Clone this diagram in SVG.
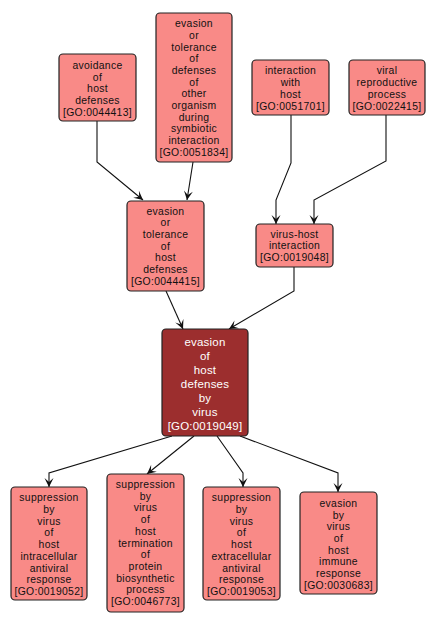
<svg xmlns="http://www.w3.org/2000/svg" width="436" height="627" viewBox="0 0 436 627">
<style>
.n rect{fill:#f98a87;stroke:#222;stroke-width:1.2}
.m rect{fill:#9c2e2e;stroke:#222;stroke-width:1.2}
text{font-family:"Liberation Sans",Arial,sans-serif;font-size:10.4px;fill:#111;text-anchor:middle;letter-spacing:0.3px}
.m text{fill:#fff;font-size:11.5px;letter-spacing:0.2px}
#edges path{fill:none;stroke:#111;stroke-width:1.1;marker-end:url(#ah)}
</style>
<defs>
<marker id="ah" markerUnits="userSpaceOnUse" markerWidth="10" markerHeight="10" refX="0" refY="0" orient="auto" overflow="visible">
<path d="M-9,-4.5 L0,0 L-9,4.5 L-5,0 Z" fill="#111"/>
</marker>
</defs>
<rect width="436" height="627" fill="#fff"/>
<g id="edges">
<path d="M97,121 L97,162 L143,200"/>
<path d="M193,162 L187,200"/>
<path d="M291,115 L291,163 L276,200 L276,224"/>
<path d="M386,115 L386,161 L314,200 L314,224"/>
<path d="M166,291 L183,329"/>
<path d="M294,267 L294,291 L229,329"/>
<path d="M172,436 L49,473 L49,487"/>
<path d="M194,436 L147,474"/>
<path d="M217,436 L243,473 L243,487"/>
<path d="M240,436 L338,473 L338,492"/>
</g>
<g id="n_0044413" class="n"><rect x="59" y="54" width="77" height="67" rx="4"/>
<text x="97.5"><tspan x="97.5" y="68.8">avoidance</tspan><tspan x="97.5" y="80.5">of</tspan><tspan x="97.5" y="92.2">host</tspan><tspan x="97.5" y="103.9">defenses</tspan><tspan x="97.5" y="115.6">[GO:0044413]</tspan></text></g>
<g id="n_0051834" class="n"><rect x="156" y="13" width="76" height="149" rx="4"/>
<text x="194"><tspan x="194" y="27.1">evasion</tspan><tspan x="194" y="38.8">or</tspan><tspan x="194" y="50.5">tolerance</tspan><tspan x="194" y="62.2">of</tspan><tspan x="194" y="73.9">defenses</tspan><tspan x="194" y="85.6">of</tspan><tspan x="194" y="97.3">other</tspan><tspan x="194" y="109">organism</tspan><tspan x="194" y="120.7">during</tspan><tspan x="194" y="132.4">symbiotic</tspan><tspan x="194" y="144.1">interaction</tspan><tspan x="194" y="155.8">[GO:0051834]</tspan></text></g>
<g id="n_0051701" class="n"><rect x="252" y="60" width="77" height="55" rx="4"/>
<text x="290.5"><tspan x="290.5" y="74.4">interaction</tspan><tspan x="290.5" y="86.1">with</tspan><tspan x="290.5" y="97.8">host</tspan><tspan x="290.5" y="109.5">[GO:0051701]</tspan></text></g>
<g id="n_0022415" class="n"><rect x="349" y="60" width="76" height="55" rx="4"/>
<text x="387"><tspan x="387" y="74.4">viral</tspan><tspan x="387" y="86.1">reproductive</tspan><tspan x="387" y="97.8">process</tspan><tspan x="387" y="109.5">[GO:0022415]</tspan></text></g>
<g id="n_0044415" class="n"><rect x="127" y="201" width="77" height="90" rx="4"/>
<text x="165.5"><tspan x="165.5" y="214.6">evasion</tspan><tspan x="165.5" y="226.3">or</tspan><tspan x="165.5" y="238">tolerance</tspan><tspan x="165.5" y="249.7">of</tspan><tspan x="165.5" y="261.4">host</tspan><tspan x="165.5" y="273.1">defenses</tspan><tspan x="165.5" y="284.8">[GO:0044415]</tspan></text></g>
<g id="n_0019048" class="n"><rect x="256" y="224" width="77" height="43" rx="4"/>
<text x="294.5"><tspan x="294.5" y="237.6">virus-host</tspan><tspan x="294.5" y="249.3">interaction</tspan><tspan x="294.5" y="261">[GO:0019048]</tspan></text></g>
<g id="n_0019049" class="m"><rect x="162" y="329" width="86" height="107" rx="4"/>
<text x="205"><tspan x="205" y="345.8">evasion</tspan><tspan x="205" y="359.8">of</tspan><tspan x="205" y="373.8">host</tspan><tspan x="205" y="387.8">defenses</tspan><tspan x="205" y="401.8">by</tspan><tspan x="205" y="415.8">virus</tspan><tspan x="205" y="429.8">[GO:0019049]</tspan></text></g>
<g id="n_0019052" class="n"><rect x="11" y="487" width="76" height="113" rx="4"/>
<text x="49"><tspan x="49" y="501.3">suppression</tspan><tspan x="49" y="513">by</tspan><tspan x="49" y="524.7">virus</tspan><tspan x="49" y="536.4">of</tspan><tspan x="49" y="548.1">host</tspan><tspan x="49" y="559.8">intracellular</tspan><tspan x="49" y="571.5">antiviral</tspan><tspan x="49" y="583.2">response</tspan><tspan x="49" y="594.9">[GO:0019052]</tspan></text></g>
<g id="n_0046773" class="n"><rect x="107" y="474" width="77" height="138" rx="4"/>
<text x="145.5"><tspan x="145.5" y="488">suppression</tspan><tspan x="145.5" y="499.7">by</tspan><tspan x="145.5" y="511.4">virus</tspan><tspan x="145.5" y="523.1">of</tspan><tspan x="145.5" y="534.8">host</tspan><tspan x="145.5" y="546.5">termination</tspan><tspan x="145.5" y="558.2">of</tspan><tspan x="145.5" y="569.9">protein</tspan><tspan x="145.5" y="581.6">biosynthetic</tspan><tspan x="145.5" y="593.3">process</tspan><tspan x="145.5" y="605">[GO:0046773]</tspan></text></g>
<g id="n_0019053" class="n"><rect x="203" y="487" width="77" height="113" rx="4"/>
<text x="241.5"><tspan x="241.5" y="501.3">suppression</tspan><tspan x="241.5" y="513">by</tspan><tspan x="241.5" y="524.7">virus</tspan><tspan x="241.5" y="536.4">of</tspan><tspan x="241.5" y="548.1">host</tspan><tspan x="241.5" y="559.8">extracellular</tspan><tspan x="241.5" y="571.5">antiviral</tspan><tspan x="241.5" y="583.2">response</tspan><tspan x="241.5" y="594.9">[GO:0019053]</tspan></text></g>
<g id="n_0030683" class="n"><rect x="300" y="492" width="77" height="102" rx="4"/>
<text x="338.5"><tspan x="338.5" y="506.8">evasion</tspan><tspan x="338.5" y="518.5">by</tspan><tspan x="338.5" y="530.2">virus</tspan><tspan x="338.5" y="541.9">of</tspan><tspan x="338.5" y="553.6">host</tspan><tspan x="338.5" y="565.3">immune</tspan><tspan x="338.5" y="577">response</tspan><tspan x="338.5" y="588.7">[GO:0030683]</tspan></text></g>
</svg>
